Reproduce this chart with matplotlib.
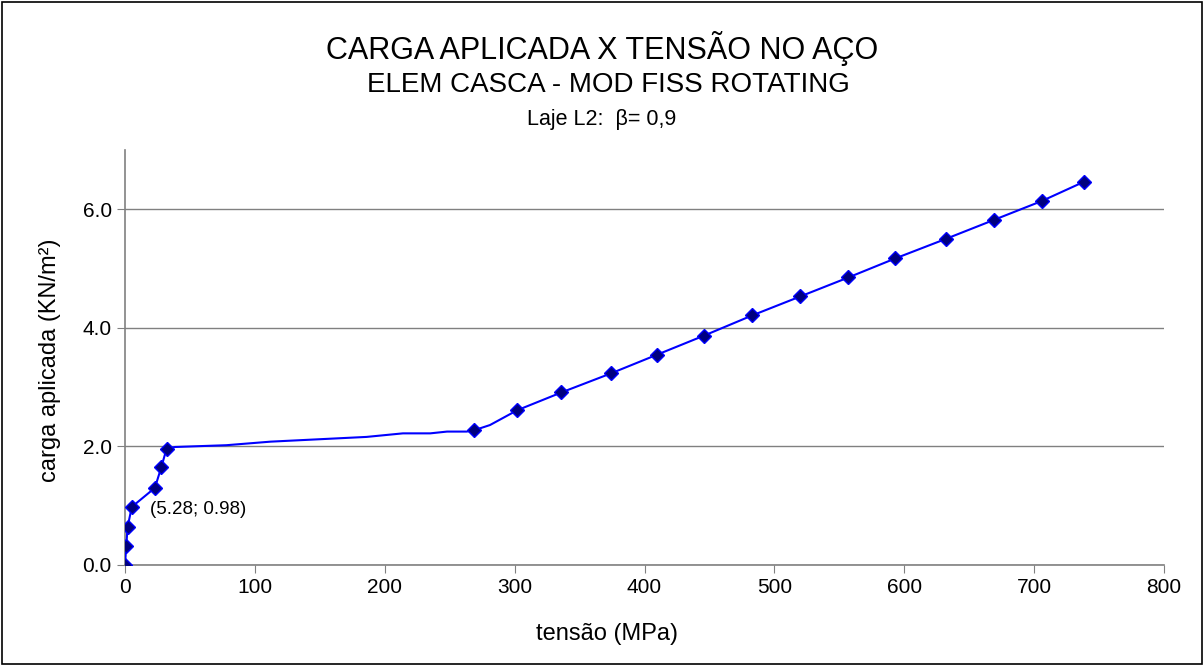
import matplotlib
matplotlib.use('Agg')
import matplotlib.pyplot as plt
from matplotlib.patches import Rectangle

plt.rcParams['font.family'] = ['Liberation Sans', 'DejaVu Sans']

# curva completa (tensao no aco x carga aplicada)
tensao = [0, 1, 2, 5.28, 23, 28, 32, 38.5, 78, 112, 186, 214, 235, 248, 263, 268.5, 281,
          302, 336, 374, 410, 446, 483, 520, 557, 593, 632, 669, 706, 738]
carga = [0, 0.32, 0.64, 0.98, 1.30, 1.65, 1.96, 1.99, 2.02, 2.08, 2.16, 2.22, 2.22, 2.25, 2.25, 2.27, 2.36,
         2.61, 2.91, 3.23, 3.55, 3.87, 4.21, 4.53, 4.85, 5.17, 5.50, 5.82, 6.14, 6.46]

# pontos marcados
tensao_pts = [0, 1, 2, 5.28, 23, 28, 32, 268.5, 302, 336, 374, 410, 446, 483, 520, 557, 593, 632, 669, 706, 738]
carga_pts = [0, 0.32, 0.64, 0.98, 1.30, 1.65, 1.96, 2.27, 2.61, 2.91, 3.23, 3.55, 3.87, 4.21, 4.53, 4.85,
             5.17, 5.50, 5.82, 6.14, 6.46]

xticks = [0, 100, 200, 300, 400, 500, 600, 700, 800]
yticks = [0, 2, 4, 6]

fig = plt.figure(figsize=(12.04, 6.66), dpi=100)
ax = fig.add_axes([0.1038, 0.1517, 0.8630, 0.6231])

ax.plot(tensao, carga, color='#0000FF', lw=1.5, zorder=3)
ax.plot(tensao_pts, carga_pts, ls='none', marker='D', ms=7, mfc='#000080', mec='#0000FF',
        mew=1, zorder=4)

ax.set_xlim(0, 800)
ax.set_ylim(0, 7)
ax.set_xticks(xticks)
ax.set_yticks(yticks)
ax.set_yticklabels([f'{v:.1f}' for v in yticks])
ax.tick_params(labelsize=15, length=6, color='#808080', direction='out')
ax.yaxis.grid(True, color='#808080', lw=1)
ax.set_axisbelow(True)
for s in ['top', 'right']:
    ax.spines[s].set_visible(False)
for s in ['left', 'bottom']:
    ax.spines[s].set_color('#808080')
    ax.spines[s].set_linewidth(1.2)

fig.text(50 / 1204, 1 - 360 / 666, 'carga aplicada (KN/m²)', fontsize=17, rotation=90,
         ha='center', va='center')
fig.text(607 / 1204, 1 - 634 / 666, 'tensão (MPa)', fontsize=17, ha='center', va='center')

ax.annotate('(5.28; 0.98)', xy=(5.28, 0.98), xytext=(19, 0.93), fontsize=13.5, va='center')

fig.text(0.5, 1 - 48 / 666, 'CARGA APLICADA X TENSÃO NO AÇO', fontsize=22, ha='center', va='center')
fig.text(0.505, 1 - 85 / 666, 'ELEM CASCA - MOD FISS ROTATING', fontsize=20, ha='center', va='center')
fig.text(0.5, 1 - 119 / 666, 'Laje L2:  β= 0,9', fontsize=15.5, ha='center', va='center')

fig.patches.append(Rectangle((0.002, 0.003), 0.996, 0.994, transform=fig.transFigure,
                             fill=False, edgecolor='black', lw=1.2))

fig.savefig('out.png', dpi=100)
